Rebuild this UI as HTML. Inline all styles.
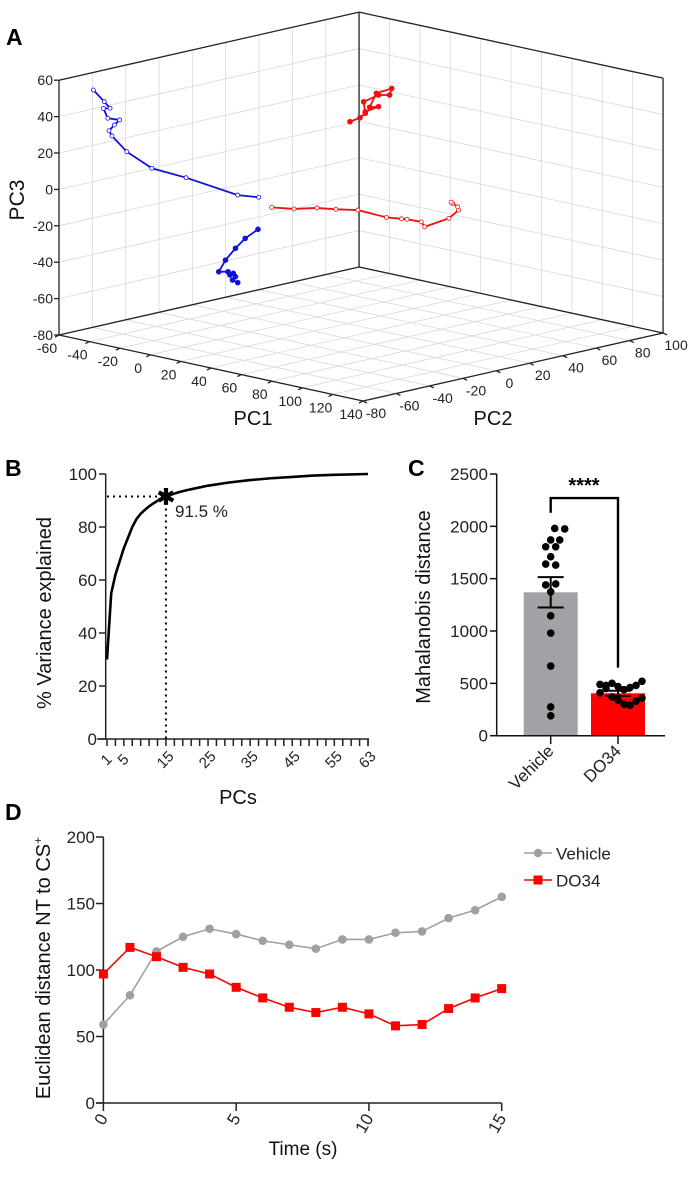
<!DOCTYPE html>
<html><head><meta charset="utf-8">
<style>
html,body{margin:0;padding:0;background:#fff;}
svg{display:block;font-family:"Liberation Sans",Arial,sans-serif;}
</style></head>
<body>
<svg id="fig" width="688" height="1182" viewBox="0 0 688 1182" xmlns="http://www.w3.org/2000/svg">
<g id="pA"></g>
<g id="pB"></g>
<g id="pC"></g>
<g id="pD"></g>
</svg>
<script>
// ---------- Panel A data (PC1, PC2, PC3) ----------
var blueOpenPC1=[-37.4,-30.2,-26.4,-30.8,-27.9,-20.1,-23.6,-27.1,-25.1,-15.4,1.1,23.6,57.6,71.4];
var blueOpenPC2=[-80,-80,-80,-80,-80,-80,-80,-80,-80,-80,-80,-80,-80,-80];
var blueOpenPC3=[58.7,53.6,50.7,49.8,44.9,45.4,42,38.2,35.7,28.8,22.7,21.6,18.2,19.5];
var blueFillPC1=[70.9,62.5,56.1,49.5,45.1,51.2,52.4,54.7,56.1,54.1,57.6];
var blueFillPC2=[-80,-80,-80,-80,-80,-80,-80,-80,-80,-80,-80];
var blueFillPC3=[1.8,-4.7,-11.3,-19,-26.2,-25.1,-26.6,-25.3,-26.9,-29.1,-29.9];
var redOpenPC1=[-51.7,-37,-21.9,-9.5,5,23.8,33.7,37.4,46.7,49,64.9,71.3,70.7,67.3,66.4];
var redOpenPC2=[40,40,40,40,40,40,40,40,40,40,40,40,40,40,40];
var redOpenPC3=[-33.3,-31.5,-28.2,-26.7,-24.5,-25.1,-24.1,-23.7,-23.4,-25.7,-18.2,-12.5,-10.8,-9.5,-9];
var redFillPC1=[-0.2,6.4,9.9,8.8,18.6,25.9,27.3,17.2,12.8,18.6,9.9];
var redFillPC2=[40,40,40,40,40,40,40,40,40,40,40];
var redFillPC3=[23.1,26.5,29.6,35.7,41.2,42.5,46.4,41.9,33.4,34.8,30.4];
var pc1Ticks=[-60,-40,-20,0,20,40,60,80,100,120,140];
var pc2Ticks=[-80,-60,-40,-20,0,20,40,60,80,100];
var pc3Ticks=[-80,-60,-40,-20,0,20,40,60];

// ---------- Panel B data ----------
var pcIndex=[1,2,3,4,5,6,7,8,9,10,11,12,13,14,15,16,18,20,22,25,30,35,40,45,50,55,63];
var cumVar=[30,55,62,67,72,76,80,83,85,86.5,87.8,88.9,89.9,90.7,91.5,92.1,93.1,93.9,94.6,95.6,96.8,97.7,98.4,98.9,99.4,99.7,100];
var bXLabels=[1,5,15,25,35,45,55,63];
var bYTicks=[0,20,40,60,80,100];
var cutoffPC=[15];
var cutoffVal=[91.5];

// ---------- Panel C data ----------
var cCats=["Vehicle","DO34"];
var cMeans=[1370,405];
var cSEM=[145,25];
var vehPoints=[1980,1975,1870,1870,1805,1805,1710,1640,1630,1440,1450,1375,1145,980,665,275,190];
var vehJitter=[4,14,0,9,-5,5,0,-5,5,-5,5,0,0,0,0,0,0];
var doPoints=[490,450,500,470,440,460,480,520,410,480,370,340,300,290,330,360];
var doJitter=[-18,-12,-6,0,6,12,18,24,-18,-12,-6,0,6,12,18,24];
var cYTicks=[0,500,1000,1500,2000,2500];

// ---------- Panel D data ----------
var dTime=[0,1,2,3,4,5,6,7,8,9,10,11,12,13,14,15];
var dVehicle=[59,81,114,125,131,127,122,119,116,123,123,128,129,139,145,155];
var dDO34=[97,117,110,102,97,87,79,72,68,72,67,58,59,71,79,86];
var dYTicks=[0,50,100,150,200];
var dXTicks=[0,5,10,15];

var NS="http://www.w3.org/2000/svg";
function mk(parent,tag,attrs,text){var e=document.createElementNS(NS,tag);for(var k in attrs)e.setAttribute(k,attrs[k]);if(text!==undefined)e.textContent=text;parent.appendChild(e);return e;}

// ===== Panel A =====
(function(){
var g=document.getElementById('pA');
function P(p1,p2,p3){return [59+1.52*(p1+60)+1.667*(p2+80), 335+0.33*(p1+60)-0.378*(p2+80)-1.82*(p3+80)];}
var grid=mk(g,'g',{stroke:'#d9d9d9','stroke-width':0.8,fill:'none'});


function L(par,a,b,extra){var at={x1:a[0],y1:a[1],x2:b[0],y2:b[1]};for(var k in extra)at[k]=extra[k];return mk(par,'line',at);}
pc2Ticks.forEach(function(v){L(grid,P(-60,v,-80),P(-60,v,60));L(grid,P(-60,v,-80),P(140,v,-80));});
pc3Ticks.forEach(function(v){L(grid,P(-60,-80,v),P(-60,100,v));L(grid,P(-60,100,v),P(140,100,v));});
pc1Ticks.forEach(function(v){L(grid,P(v,100,-80),P(v,100,60));L(grid,P(v,-80,-80),P(v,100,-80));});
var box=mk(g,'g',{stroke:'#222','stroke-width':1.3});


L(box,P(-60,-80,-80),P(-60,-80,60));L(box,P(-60,100,-80),P(-60,100,60));L(box,P(140,100,-80),P(140,100,60));
L(box,P(-60,-80,60),P(-60,100,60));L(box,P(-60,100,60),P(140,100,60));
L(box,P(-60,-80,-80),P(-60,100,-80));L(box,P(-60,100,-80),P(140,100,-80));
L(box,P(-60,-80,-80),P(140,-80,-80));L(box,P(140,-80,-80),P(140,100,-80));
pc3Ticks.forEach(function(v){var p=P(-60,-80,v);L(box,[p[0]-5,p[1]],p);
 var t=mk(g,'text',{x:p[0]-6,y:p[1]+5,'text-anchor':'end','font-size':14,fill:'#222'},v);
 });
pc1Ticks.forEach(function(v){var p=P(v,-80,-80);L(box,p,[p[0]-4,p[1]+2]);
 var t=mk(g,'text',{x:p[0]-12,y:p[1]+18,'text-anchor':'middle','font-size':14,fill:'#222'},v);
 });
pc2Ticks.forEach(function(v){var p=P(140,v,-80);L(box,p,[p[0]+4,p[1]+2]);
 var t=mk(g,'text',{x:p[0]+13,y:p[1]+17,'text-anchor':'middle','font-size':14,fill:'#222'},v);
 });
function traj(a1,a2,a3,color,filled,name){
 var pts=a1.map(function(v,i){return P(v,a2[i],a3[i]);});
 var pl=mk(g,'polyline',{points:pts.map(function(p){return p.join(',');}).join(' '),fill:'none',stroke:color,'stroke-width':1.8});
 
 pts.forEach(function(p){var c=mk(g,'circle',{cx:p[0],cy:p[1],r:filled?2.4:2,fill:filled?color:'#fff',stroke:color,'stroke-width':0.8});
  });
}
traj(blueOpenPC1,blueOpenPC2,blueOpenPC3,'#1010e0',false,'vehicle-open-trajectory');
traj(blueFillPC1,blueFillPC2,blueFillPC3,'#1010e0',true,'vehicle-filled-trajectory');
traj(redOpenPC1,redOpenPC2,redOpenPC3,'#f01010',false,'do34-open-trajectory');
traj(redFillPC1,redFillPC2,redFillPC3,'#f01010',true,'do34-filled-trajectory');
var t=mk(g,'text',{x:24,y:200,'text-anchor':'middle','font-size':21,fill:'#111',transform:'rotate(-90 24 200)'},'PC3');

t=mk(g,'text',{x:253,y:425,'text-anchor':'middle','font-size':20,fill:'#111'},'PC1');

t=mk(g,'text',{x:493,y:425,'text-anchor':'middle','font-size':20,fill:'#111'},'PC2');

t=mk(g,'text',{x:6,y:45,'font-size':23,'font-weight':'bold',fill:'#000'},'A');

})();

// ===== Panel B =====
(function(){
var g=document.getElementById('pB');
function X(pc){return 107+(pc-1)*(368-107)/62;}
function Y(v){return 739-v*2.65;}
var ax=mk(g,'g',{stroke:'#222','stroke-width':1.5});

mk(ax,'line',{x1:105.7,y1:Y(100),x2:105.7,y2:739});
mk(ax,'line',{x1:97,y1:739,x2:369,y2:739});
bYTicks.forEach(function(v){mk(ax,'line',{x1:99,y1:Y(v),x2:105.7,y2:Y(v)});
 var t=mk(g,'text',{x:97,y:Y(v)+6,'text-anchor':'end','font-size':17,fill:'#222'},v);
 });
for(var k=1;k<=63;k+=2){mk(ax,'line',{x1:X(k),y1:739,x2:X(k),y2:746});}
mk(ax,'line',{x1:X(63),y1:739,x2:X(63),y2:746});
bXLabels.forEach(function(v){var x=X(v),y=766;
 var t=mk(g,'text',{x:x+4,y:y,'text-anchor':'middle','font-size':15,fill:'#222',transform:'rotate(-45 '+x+' '+y+')'},v);
 });
var d='M'+pcIndex.map(function(p,i){return X(p)+','+Y(cumVar[i]);}).join(' L');
var c=mk(g,'path',{d:d,fill:'none',stroke:'#000','stroke-width':2.6,'stroke-linejoin':'round'});

var sx=X(cutoffPC[0]),sy=Y(cutoffVal[0]);
var h=mk(g,'line',{x1:107,y1:sy,x2:sx,y2:sy,stroke:'#000','stroke-width':2,'stroke-dasharray':'2 4'});

var v=mk(g,'line',{x1:sx,y1:sy,x2:sx,y2:739,stroke:'#000','stroke-width':2,'stroke-dasharray':'2 4'});

var s=mk(g,'text',{x:sx,y:sy+8,'text-anchor':'middle','font-size':22,'font-weight':'bold',fill:'#000'},'✱');

var t=mk(g,'text',{x:175,y:517,'font-size':17,fill:'#222'},cutoffVal[0]+' %');

t=mk(g,'text',{x:51,y:613,'text-anchor':'middle','font-size':20,fill:'#111',transform:'rotate(-90 51 613)'},'% Variance explained');

t=mk(g,'text',{x:238,y:804,'text-anchor':'middle','font-size':20,fill:'#111'},'PCs');

t=mk(g,'text',{x:5,y:476,'font-size':23,'font-weight':'bold',fill:'#000'},'B');

})();

// ===== Panel C =====
(function(){
var g=document.getElementById('pC');
var cx=[550.7,618];
function Y(v){return 735.7-v*(261.7/2500);}
var colors=['#a2a2a6','#ff0000'];
cMeans.forEach(function(m,i){var r=mk(g,'rect',{x:cx[i]-27,y:Y(m),width:54,height:735.7-Y(m),fill:colors[i]});
 });
vehPoints.forEach(function(v,i){var c=mk(g,'circle',{cx:cx[0]+vehJitter[i],cy:Y(v),r:3.8,fill:'#000'});
 });
doPoints.forEach(function(v,i){var c=mk(g,'circle',{cx:cx[1]+doJitter[i],cy:Y(v),r:3.8,fill:'#000'});
 });
cMeans.forEach(function(m,i){var e=mk(g,'path',{d:'M'+cx[i]+','+Y(m-cSEM[i])+' V'+Y(m+cSEM[i])+' M'+(cx[i]-13)+','+Y(m+cSEM[i])+' h26 M'+(cx[i]-13)+','+Y(m-cSEM[i])+' h26',stroke:'#000','stroke-width':2,fill:'none'});
 });
var ax=mk(g,'g',{stroke:'#111','stroke-width':1.5});

mk(ax,'line',{x1:496.7,y1:Y(2500),x2:496.7,y2:735.7});
mk(ax,'line',{x1:496.7,y1:735.7,x2:665,y2:735.7});
cYTicks.forEach(function(v){mk(ax,'line',{x1:490,y1:Y(v),x2:496.7,y2:Y(v)});
 var t=mk(g,'text',{x:488,y:Y(v)+6,'text-anchor':'end','font-size':17,fill:'#222'},v);
 });
cx.forEach(function(x,i){mk(ax,'line',{x1:x,y1:735.7,x2:x,y2:744});
 var t=mk(g,'text',{x:x+4,y:752,'text-anchor':'end','font-size':17,fill:'#222',transform:'rotate(-45 '+(x+4)+' 752)'},cCats[i]);
 });
var b=mk(g,'path',{d:'M'+cx[0]+','+Y(2130)+' V'+Y(2270)+' H'+cx[1]+' V'+Y(650),stroke:'#000','stroke-width':2.4,fill:'none'});

var t=mk(g,'text',{x:584,y:492,'text-anchor':'middle','font-size':20,'font-weight':'bold',fill:'#000'},'****');

t=mk(g,'text',{x:430,y:607,'text-anchor':'middle','font-size':20,fill:'#111',transform:'rotate(-90 430 607)'},'Mahalanobis distance');

t=mk(g,'text',{x:408,y:476,'font-size':23,'font-weight':'bold',fill:'#000'},'C');

})();

// ===== Panel D =====
(function(){
var g=document.getElementById('pD');
function X(t){return 103.4+t*(501.7-103.4)/15;}
function Y(v){return 1103-v*(266/200);}
var ax=mk(g,'g',{stroke:'#222','stroke-width':1.5});

mk(ax,'line',{x1:103.4,y1:Y(200),x2:103.4,y2:1103});
mk(ax,'line',{x1:96,y1:1103,x2:501.7,y2:1103});
dYTicks.forEach(function(v){mk(ax,'line',{x1:96,y1:Y(v),x2:103.4,y2:Y(v)});
 var t=mk(g,'text',{x:95,y:Y(v)+6,'text-anchor':'end','font-size':17,fill:'#222'},v);
 });
dXTicks.forEach(function(v){var x=X(v);mk(ax,'line',{x1:x,y1:1103,x2:x,y2:1111});
 var t=mk(g,'text',{x:x+5,y:1118,'text-anchor':'end','font-size':17,fill:'#222',transform:'rotate(-60 '+(x+5)+' 1118)'},v);
 });
function series(vals,color,sq,name){
 var pl=mk(g,'polyline',{points:dTime.map(function(t,i){return X(t)+','+Y(vals[i]);}).join(' '),fill:'none',stroke:color,'stroke-width':1.6});
 
 dTime.forEach(function(t,i){var m;
  if(sq){m=mk(g,'rect',{x:X(t)-4.5,y:Y(vals[i])-4.5,width:9,height:9,fill:color});}
  else{m=mk(g,'circle',{cx:X(t),cy:Y(vals[i]),r:4.3,fill:color});}
  });
}
series(dVehicle,'#a0a0a0',false,'vehicle');
series(dDO34,'#ff0000',true,'do34');
var lg=mk(g,'g',{});

var e1=mk(lg,'g',{});

mk(e1,'line',{x1:524,y1:853,x2:552,y2:853,stroke:'#a0a0a0','stroke-width':1.6});
mk(e1,'circle',{cx:538,cy:853,r:4.3,fill:'#a0a0a0'});
mk(e1,'text',{x:556,y:859.5,'font-size':17,fill:'#222'},'Vehicle');
var e2=mk(lg,'g',{});

mk(e2,'line',{x1:524,y1:880,x2:552,y2:880,stroke:'#ff0000','stroke-width':1.6});
mk(e2,'rect',{x:533.5,y:875.5,width:9,height:9,fill:'#ff0000'});
mk(e2,'text',{x:556,y:886.5,'font-size':17,fill:'#222'},'DO34');
var t=mk(g,'text',{x:50,y:968,'text-anchor':'middle','font-size':20,fill:'#111',transform:'rotate(-90 50 968)'});

t.appendChild(document.createTextNode('Euclidean distance NT to CS'));
var sp=mk(t,'tspan',{'font-size':12,dy:-8},'+');
t=mk(g,'text',{x:303,y:1155,'text-anchor':'middle','font-size':19,fill:'#111'},'Time (s)');

t=mk(g,'text',{x:5,y:820,'font-size':23,'font-weight':'bold',fill:'#000'},'D');

})();
</script>
</body></html>
